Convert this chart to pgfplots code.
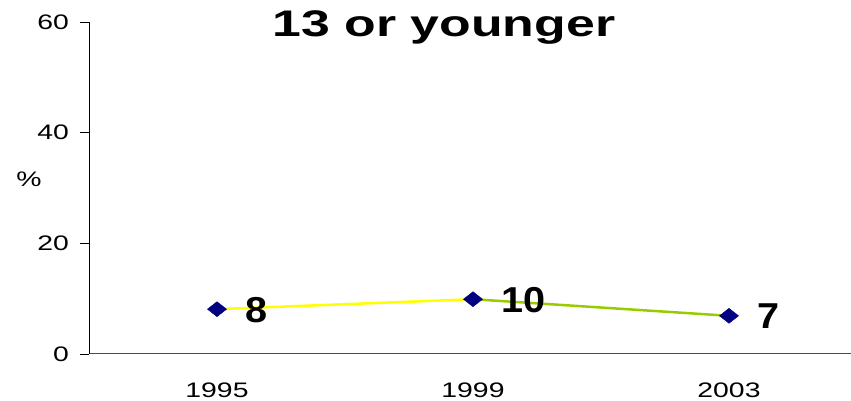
\documentclass[border=0pt]{standalone}
\usepackage{fontspec}
\setmainfont{Liberation Sans}
\usepackage{pgfplots}
\pgfplotsset{compat=1.18}
\definecolor{lineyellow}{RGB}{255,255,0}
\definecolor{linegreen}{RGB}{153,204,0}
\definecolor{marknavy}{RGB}{0,0,128}
\newcommand{\tl}[1]{\scalebox{1.35}[1]{#1}}
\newcommand{\dl}[1]{\scalebox{1.1}[1]{\bfseries #1}}
\begin{document}
\begin{tikzpicture}[x=1pt,y=1pt]
\begin{axis}[
  at={(89pt,47pt)}, anchor=south west,
  scale only axis, width=768pt, height=332pt,
  xmin=-0.5, xmax=2.5, ymin=0, ymax=60,
  axis x line=bottom, axis y line=left,
  axis line style={-, line width=1pt},
  x axis line style={draw=black!70},
  xtick={0,1,2},
  xticklabels={\tl{1995},\tl{1999},\tl{2003}},
  ytick={0,20,40,60},
  yticklabels={\tl{0},\tl{20},\tl{40},\tl{60}},
  major x tick style={draw=none},
  tick align=outside, major tick length=9pt,
  tick style={black, line width=0.8pt},
  ticklabel style={font=\fontsize{21}{25}\selectfont},
  yticklabel style={anchor=east, inner sep=0pt, xshift=-11pt},
  xticklabel style={anchor=base, inner sep=0pt, yshift=-34pt},
  clip=false,
]
\addplot[lineyellow, line width=2.5pt] coordinates {(0,8.1) (1,9.9)};
\addplot[linegreen, line width=2.5pt] coordinates {(1,9.9) (2,6.9)};
\addplot[only marks, mark=diamond*, mark size=7.5pt,
  mark options={xscale=1.7, fill=marknavy, draw=marknavy},
  point meta=explicit symbolic,
  nodes near coords,
  nodes near coords style={anchor=base west, inner sep=0pt, xshift=28pt, yshift=-13pt,
    font=\fontsize{36}{40}\selectfont, text=black}]
  table[meta=label] {
x y label
0 8.1 {\dl{8}}
1 9.9 {\dl{10}}
2 6.9 {\dl{7}}
};
\end{axis}
\node[anchor=base] at (444,364) {\fontsize{37}{40}\selectfont\bfseries\scalebox{1.4}[1]{13 or younger}};
\node at (29,222) {\fontsize{21}{25}\selectfont\tl{\%}};
\pgfresetboundingbox
\useasboundingbox (0,0) rectangle (851,401);
\end{tikzpicture}
\end{document}
